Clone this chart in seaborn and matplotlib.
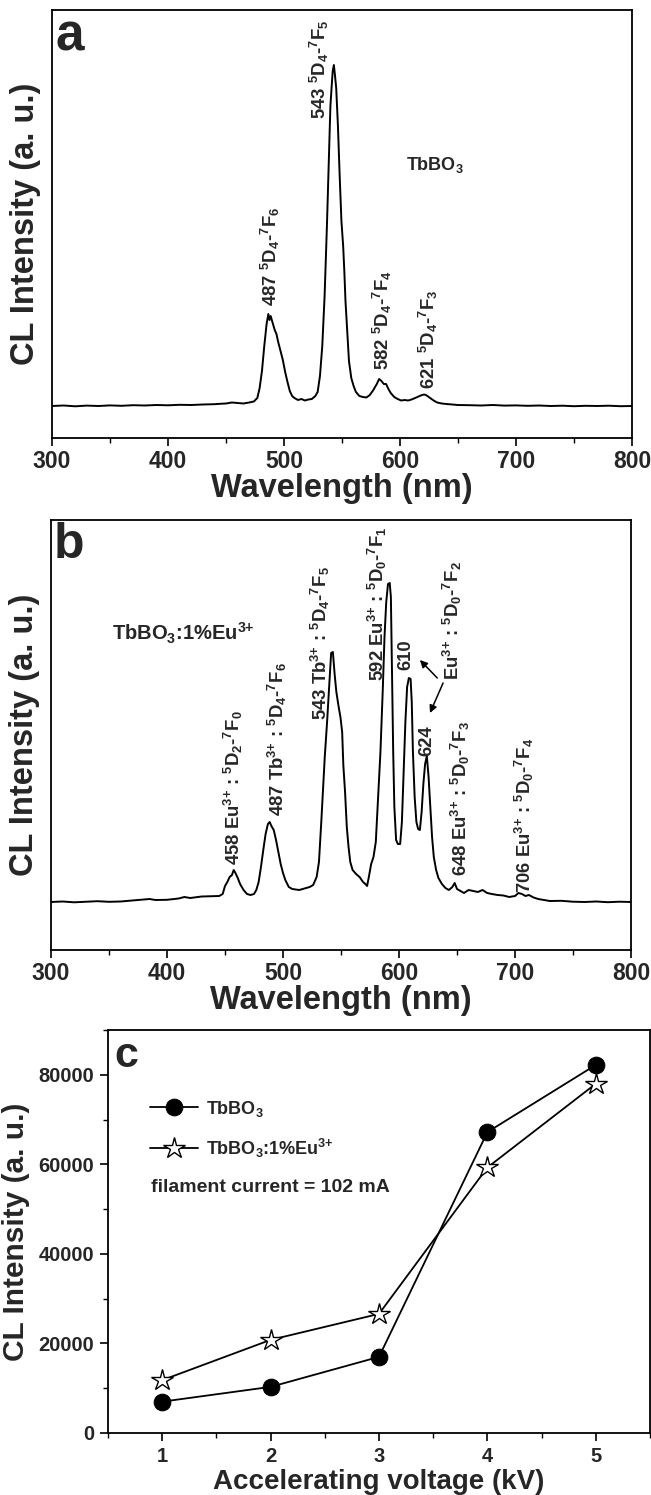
import matplotlib
matplotlib.use("Agg")
import matplotlib.pyplot as plt
from matplotlib.ticker import MultipleLocator
import seaborn as sns

# ---------------- data ----------------
# panel a: TbBO3 CL spectrum (a.u., baseline = 0)
wl_a = [300, 310, 320, 330, 340, 350, 360, 370, 380, 390, 400, 410, 420, 430, 440, 445, 450, 455,
        460, 465, 470, 474, 477, 479, 481, 483, 485, 486.5, 487.5, 488.5, 490, 492, 493.5, 495, 497,
        499, 501, 503, 505, 507, 509, 512, 515, 518, 521, 524, 527, 529, 531, 533, 535, 537, 538.5,
        540, 541, 542, 543, 544, 545, 546.5, 548, 549.5, 551, 552, 553, 554.5, 556, 558, 560, 562,
        565, 568, 571, 574, 577, 580, 582, 584, 586, 588, 590, 592, 595, 598, 601, 604, 607, 610,
        613, 616, 619, 621, 623, 626, 629, 632, 636, 640, 645, 650, 660, 670, 680, 690, 700, 710,
        720, 730, 740, 750, 760, 770, 780, 790, 800]
int_a = [0, 0.5, -0.3, 0.4, 0, 0.6, 0.2, 0.8, 0.5, 1, 0.7, 1.2, 1, 1.5, 1.8, 2.2, 2.5, 3.5,
         3, 2.5, 3.5, 4.5, 8, 18, 35, 60, 82, 92, 86, 90, 84, 76, 72, 64, 55,
         46, 34, 24, 15, 10, 8, 6, 7, 5.5, 6.5, 7, 10, 14, 30, 60, 110, 180, 240,
         300, 318, 335, 341, 330, 318, 280, 230, 185, 160, 135, 105, 75, 45, 28, 20, 14,
         10, 9, 8.5, 11, 16, 22, 27, 25, 22, 22, 17, 13, 9, 7, 5.5, 6, 5.5, 6.5,
         8, 9.5, 11, 11.5, 10.5, 8, 5.5, 3.5, 2.5, 2, 1.5, 1, 0.8, 0.5, 1, 0.4, 0.6, 0.2,
         0.5, 0, 0.3, -0.2, 0.2, 0, 0.3, -0.2, 0]

# panel b: TbBO3:1%Eu3+ CL spectrum (a.u., baseline = 0)
wl_b = [300, 310, 320, 330, 340, 350, 360, 370, 380, 385, 390, 400, 410, 415, 420, 430, 440, 445,
        448, 450, 452, 454, 456, 457.5, 459, 461, 463, 466, 469, 472, 475, 477, 479, 481, 483, 485,
        487, 488.5, 490, 492, 494, 496, 498, 500, 502, 505, 508, 511, 514, 517, 520, 523, 526, 529,
        531, 533, 534.5, 536, 538, 540, 541.5, 543, 544.5, 546, 548, 549.5, 551, 552, 553.5, 555,
        556.5, 558, 560, 563, 566, 569, 571, 572.5, 574, 576, 578, 580, 582, 584, 586, 587.5, 589,
        590.5, 592, 593, 594, 595, 596, 597.5, 599, 601, 602.5, 604, 605.5, 607, 608.5, 610, 611,
        612, 613.5, 615, 616.5, 618, 619.5, 621, 622.5, 624, 625.5, 627, 628.5, 630, 632, 634, 637,
        640, 643, 646, 648, 650, 653, 656, 660, 664, 668, 672, 676, 680, 685, 690, 695, 700, 703,
        706, 709, 712, 716, 720, 725, 730, 740, 750, 760, 770, 780, 790, 800]
int_b = [0, 0.5, -0.3, 0.3, 0.8, 0.2, 0.5, 1.5, 2.5, 3, 2, 2.2, 3.5, 5, 4, 5.5, 5.8, 6,
         8, 16, 20, 25, 27, 32, 29, 24, 18, 12, 8, 7, 8, 12, 20, 35, 52, 68,
         78, 80, 76, 72, 62, 50, 38, 29, 22, 15, 13, 12.5, 12, 13, 14, 15, 17, 25,
         40, 80, 112, 145, 180, 220, 249, 250, 228, 210, 195, 185, 170, 137, 110, 75,
         55, 40, 32, 28, 25, 20, 18, 16, 25, 38, 45, 60, 105, 150, 212, 265, 300,
         318, 319, 305, 230, 150, 95, 62, 58, 58, 80, 130, 180, 215, 224, 223, 200,
         150, 105, 80, 73, 72, 90, 118, 138, 146, 125, 95, 65, 45, 32, 24, 18,
         14, 12, 15, 19, 13, 11, 9, 12, 11, 10, 12, 9, 8, 7, 6.5, 5, 6, 9,
         8, 6, 7, 4.5, 3, 2, 1, 1.2, 0.3, 0, 0.5, -0.2, 0.3, 0]

# panel c: CL intensity vs accelerating voltage
voltage = [1, 2, 3, 4, 5]
tbbo3 = [7000, 10300, 17000, 67200, 82200]
tbbo3_eu = [11800, 20800, 26600, 59300, 78000]

wl_ticks = [300, 400, 500, 600, 700, 800]

# ---------------- style ----------------
sns.set_theme(style="ticks")
plt.rcParams["font.family"] = ["Liberation Sans", "DejaVu Sans"]
plt.rcParams["font.weight"] = "bold"
plt.rcParams["axes.labelweight"] = "bold"
plt.rcParams["mathtext.fontset"] = "custom"
plt.rcParams["mathtext.rm"] = "Liberation Sans:bold"
plt.rcParams["mathtext.it"] = "Liberation Sans:bold"
plt.rcParams["mathtext.bf"] = "Liberation Sans:bold"
plt.rcParams["mathtext.default"] = "bf"
plt.rcParams["axes.linewidth"] = 1.3
plt.rcParams["xtick.direction"] = "out"
plt.rcParams["ytick.direction"] = "out"

fig = plt.figure(figsize=(6.51, 14.95), dpi=100)
W, H = 651.0, 1495.0


def add_axes_px(left, top, right, bottom):
    return fig.add_axes([left / W, 1 - bottom / H, (right - left) / W, (bottom - top) / H])


LAB = 23.5
TICK = 16.5
ANN = 13.3


def style_spectrum_axes(ax, ylim):
    ax.set_xlim(300, 800)
    ax.set_ylim(*ylim)
    ax.set_xticks(wl_ticks)
    ax.xaxis.set_minor_locator(MultipleLocator(50))
    ax.set_yticks([])
    for s in ax.spines.values():
        s.set_visible(True)
        s.set_color("black")
        s.set_linewidth(1.3)
    ax.tick_params(axis="x", which="major", length=6, width=1.2, labelsize=TICK, color="black", pad=3)
    ax.tick_params(axis="x", which="minor", length=3.5, width=1.0, color="black")
    ax.set_xlabel("Wavelength (nm)", fontsize=LAB, fontweight="bold", labelpad=0)
    ax.set_ylabel("CL Intensity (a. u.)", fontsize=LAB, fontweight="bold", labelpad=8)
    ax.set_facecolor("white")


arrow_kw = dict(arrowstyle="-|>", color="black", lw=1.1, mutation_scale=11, shrinkA=0, shrinkB=0)

# ---------------- panel a ----------------
ax1 = add_axes_px(52, 10, 632, 438)
sns.lineplot(x=wl_a, y=int_a, ax=ax1, color="black", linewidth=1.4, estimator=None, sort=False)
style_spectrum_axes(ax1, (-32, 396))
ax1.text(0.006, 0.995, "a", transform=ax1.transAxes, fontsize=37, fontweight="bold", va="top", ha="left")
ax1.text(605, 241, "TbBO$_3$", fontsize=13, fontweight="bold", va="center", ha="left")
ann_a = [
    (488, 100, "487 $^5$D$_4$-$^7$F$_6$"),
    (530.5, 287, "543 $^5$D$_4$-$^7$F$_5$"),
    (585, 36, "582 $^5$D$_4$-$^7$F$_4$"),
    (624.5, 17, "621 $^5$D$_4$-$^7$F$_3$"),
]
for x, y, s in ann_a:
    ax1.text(x, y, s, rotation=90, ha="center", va="bottom", fontsize=ANN, fontweight="bold")

# ---------------- panel b ----------------
ax2 = add_axes_px(51, 520, 631, 950)
sns.lineplot(x=wl_b, y=int_b, ax=ax2, color="black", linewidth=1.4, estimator=None, sort=False)
style_spectrum_axes(ax2, (-48, 382))
ax2.text(0.005, 0.995, "b", transform=ax2.transAxes, fontsize=36, fontweight="bold", va="top", ha="left")
ax2.text(353, 269, "TbBO$_3$:1%Eu$^{3{+}}$", fontsize=14.5, fontweight="bold", va="center", ha="left")
ann_b = [
    (457, 37, "458 Eu$^{3{+}}$ : $^5$D$_2$-$^7$F$_0$"),
    (495, 86, "487 Tb$^{3{+}}$ : $^5$D$_4$-$^7$F$_6$"),
    (532, 182, "543 Tb$^{3{+}}$ : $^5$D$_4$-$^7$F$_5$"),
    (581, 221, "592 Eu$^{3{+}}$ : $^5$D$_0$-$^7$F$_1$"),
    (606, 232, "610"),
    (646.5, 222, "Eu$^{3{+}}$ : $^5$D$_0$-$^7$F$_2$"),
    (624, 146, "624"),
    (653, 26, "648 Eu$^{3{+}}$ : $^5$D$_0$-$^7$F$_3$"),
    (708, 9, "706 Eu$^{3{+}}$ : $^5$D$_0$-$^7$F$_4$"),
]
for x, y, s in ann_b:
    ax2.text(x, y, s, rotation=90, ha="center", va="bottom", fontsize=ANN, fontweight="bold")
ax2.annotate("", xy=(618, 242), xytext=(633, 224), arrowprops=arrow_kw)
ax2.annotate("", xy=(626.7, 189), xytext=(638, 219), arrowprops=arrow_kw)

# ---------------- panel c ----------------
ax3 = add_axes_px(108, 1030, 650, 1433)
sns.lineplot(x=voltage, y=tbbo3, ax=ax3, color="black", linewidth=1.3, marker="o", markersize=12,
             markerfacecolor="black", markeredgecolor="black", label="TbBO$_3$")
sns.lineplot(x=voltage, y=tbbo3_eu, ax=ax3, color="black", linewidth=1.3, marker="*", markersize=16,
             markerfacecolor="white", markeredgecolor="black", markeredgewidth=1.0,
             label="TbBO$_3$:1%Eu$^{3{+}}$")
ax3.set_xlim(0.5, 5.5)
ax3.set_ylim(0, 90000)
ax3.set_xticks(voltage)
ax3.xaxis.set_minor_locator(MultipleLocator(0.5))
ax3.yaxis.set_major_locator(MultipleLocator(20000))
ax3.yaxis.set_minor_locator(MultipleLocator(10000))
for s in ax3.spines.values():
    s.set_visible(True)
    s.set_color("black")
    s.set_linewidth(1.3)
ax3.tick_params(axis="both", which="major", length=6, width=1.2, labelsize=14.5, color="black", pad=4)
ax3.tick_params(axis="both", which="minor", length=3.5, width=1.0, color="black")
ax3.set_xlabel("Accelerating voltage (kV)", fontsize=20, fontweight="bold", labelpad=2)
ax3.set_ylabel("CL Intensity (a. u.)", fontsize=21.5, fontweight="bold", labelpad=6)
ax3.text(0.012, 0.985, "c", transform=ax3.transAxes, fontsize=31, fontweight="bold", va="top", ha="left")
ax3.legend(loc="upper left", bbox_to_anchor=(0.077, 0.83), frameon=False, fontsize=13,
           handlelength=2.7, handletextpad=0.4, labelspacing=1.0, borderpad=0, borderaxespad=0)
ax3.text(0.079, 0.61, "filament current = 102 mA", transform=ax3.transAxes, fontsize=14,
         fontweight="bold", va="center", ha="left")

fig.savefig("out.png", dpi=100, facecolor="white")
